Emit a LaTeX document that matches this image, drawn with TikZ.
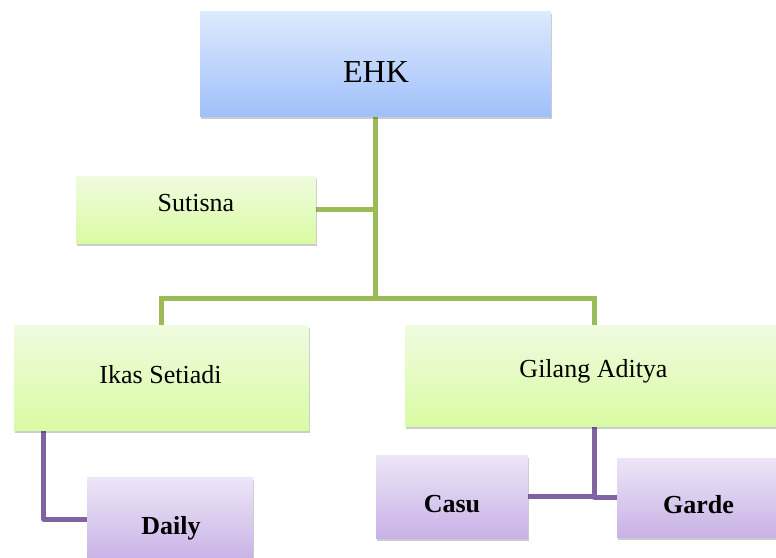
\documentclass[tikz,border=0pt]{standalone}
\usepackage{fontspec}
\setmainfont{Liberation Serif}
\usetikzlibrary{shadows,calc,backgrounds}
\definecolor{gline}{RGB}{155,187,89}
\definecolor{pline}{RGB}{128,100,162}
\definecolor{bluetop}{RGB}{222,234,253}
\definecolor{bluebot}{RGB}{160,192,250}
\definecolor{greentop}{RGB}{240,251,224}
\definecolor{greenbot}{RGB}{217,251,163}
\definecolor{purtop}{RGB}{237,230,247}
\definecolor{purbot}{RGB}{200,178,230}
\tikzset{
  box/.style={inner sep=0pt, draw=none,
    drop shadow={shadow xshift=1pt, shadow yshift=-2.5pt, fill=black, opacity=0.2}},
  bluebox/.style={box, top color=bluetop, bottom color=bluebot},
  greenbox/.style={box, top color=greentop, bottom color=greenbot},
  purbox/.style={box, top color=purtop, bottom color=purbot},
  lbl/.style={inner sep=0pt, font=\fontsize{26}{30}\selectfont},
  blbl/.style={lbl, font=\fontsize{26}{30}\selectfont\bfseries},
  gconn/.style={draw=gline, line width=5pt},
  pconn/.style={draw=pline, line width=5pt, line join=round},
}
\begin{document}
\begin{tikzpicture}[x=1pt,y=-1pt]
\useasboundingbox (0,0) rectangle (776,557);
\clip (0,0) rectangle (776,557);
\node[bluebox, minimum width=351pt, minimum height=105pt] (ehk) at (375.5,63.5) {};
\node[greenbox, minimum width=240pt, minimum height=67pt] (sut) at (196,209.5) {};
\node[greenbox, minimum width=295pt, minimum height=105pt] (ikas) at (161.5,377.5) {};
\node[greenbox, minimum width=378pt, minimum height=101pt] (gil) at (594,375.5) {};
\node[purbox, minimum width=166pt, minimum height=84pt] (daily) at (170,519) {};
\node[purbox, minimum width=152pt, minimum height=83pt] (casu) at (452,496.5) {};
\node[purbox, minimum width=159pt, minimum height=79pt] (garde) at (696.5,497.5) {};
\coordinate (bar) at (375.5,298);
\begin{scope}[on background layer]
\draw[gconn] (ehk.south) -- (bar);
\draw[gconn] (sut.east) -- (sut.east -| ehk.south);
\draw[gconn] (ikas.north) |- (bar) -| (gil.north);
\draw[pconn] ($(ikas.south west)+(30,0)$) |- (daily.west);
\draw[pconn] (gil.south) |- (casu.east);
\draw[pconn] (gil.south) |- (garde.west);
\end{scope}
\node[lbl, font=\fontsize{32}{36}\selectfont] (ehkt) at (376,72) {EHK};
\node[lbl] (sutt) at (196,203.5) {Sutisna};
\node[lbl] (ikast) at (160.5,374.5) {Ikas Setiadi};
\node[lbl] (gilt) at (593.5,371.5) {Gilang Aditya};
\node[blbl] (dailyt) at (171,528) {Daily};
\node[blbl] (casut) at (452,504) {Casu};
\node[blbl] (gardet) at (698.5,505) {Garde};
\end{tikzpicture}
\end{document}
